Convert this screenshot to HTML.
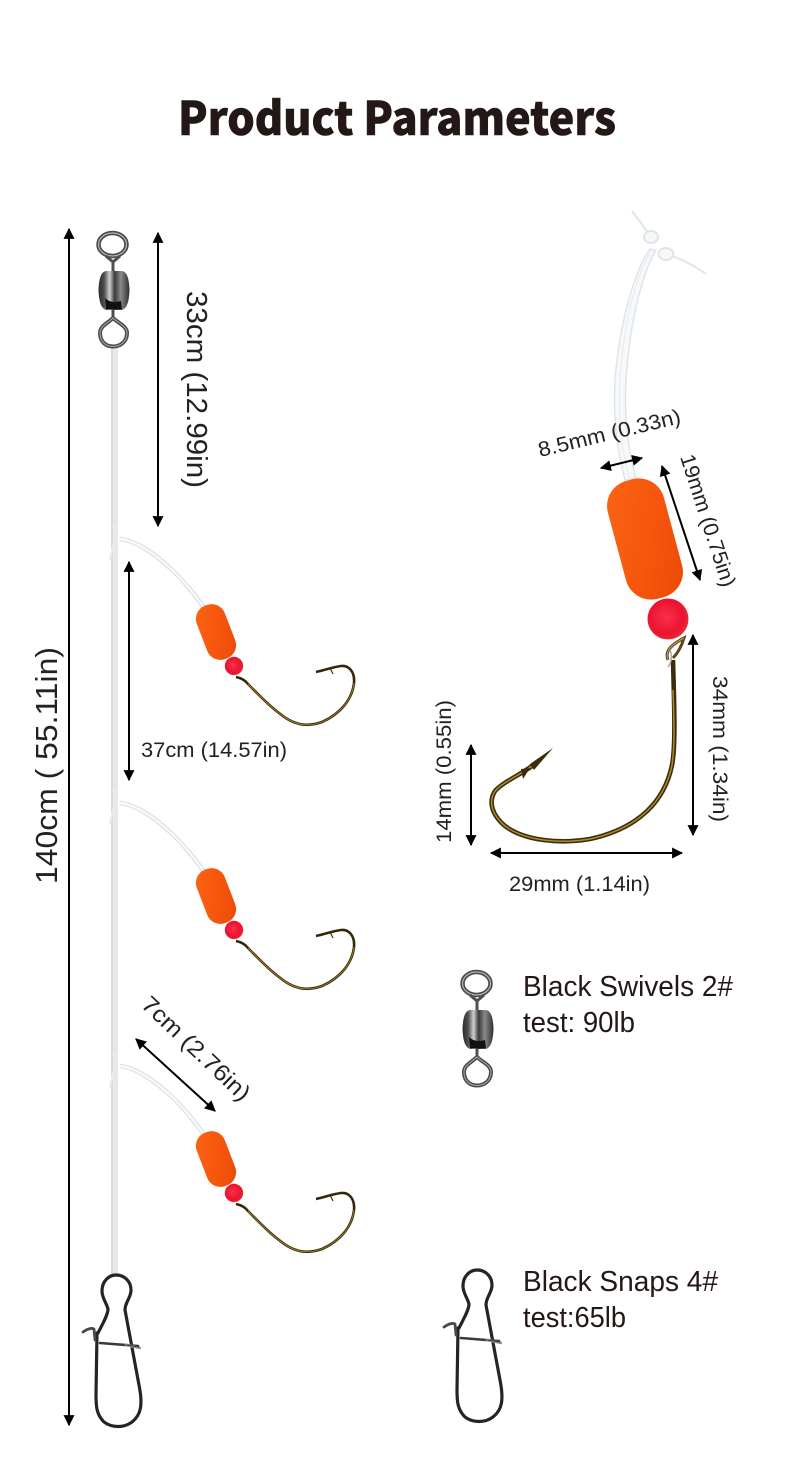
<!DOCTYPE html>
<html lang="en">
<head>
<meta charset="utf-8">
<title>Product Parameters</title>
<style>
html,body{margin:0;padding:0;background:#fff;width:790px;height:1478px;overflow:hidden}
svg{display:block}
text{font-family:"Liberation Sans",sans-serif;fill:#231815}
.dim{font-size:21px;fill:#222}
.lab{font-size:29px;fill:#231815}
</style>
</head>
<body>
<svg width="790" height="1478" viewBox="0 0 790 1478" xmlns="http://www.w3.org/2000/svg">
<defs>
  <marker id="ah" viewBox="0 0 10 10" refX="9" refY="5" markerWidth="11" markerHeight="11" markerUnits="userSpaceOnUse" orient="auto-start-reverse">
    <path d="M0,0 L10,5 L0,10 Z" fill="#000"/>
  </marker>
  <linearGradient id="barrel" x1="0" x2="1" y1="0" y2="0">
    <stop offset="0" stop-color="#2c2c2c"/><stop offset=".18" stop-color="#4d4d4d"/>
    <stop offset=".36" stop-color="#d0d0d0"/><stop offset=".52" stop-color="#3a3a3a"/>
    <stop offset=".72" stop-color="#8a8a8a"/><stop offset="1" stop-color="#2e2e2e"/>
  </linearGradient>
  <linearGradient id="flo" x1="0" x2="1" y1="0" y2="1">
    <stop offset="0" stop-color="#fb6414"/><stop offset=".6" stop-color="#f5540c"/><stop offset="1" stop-color="#e84a08"/>
  </linearGradient>
  <radialGradient id="bd" cx=".45" cy=".45" r=".6">
    <stop offset="0" stop-color="#f8304c"/><stop offset=".7" stop-color="#ec1230"/><stop offset="1" stop-color="#e0383a"/>
  </radialGradient>

  <g id="swivel" fill="none">
    <ellipse cx="112.5" cy="244.5" rx="14" ry="11.5" stroke="#4a4a4a" stroke-width="4.5"/>
    <ellipse cx="112.5" cy="244.5" rx="14" ry="11.5" stroke="#b5b5b5" stroke-width="1.2"/>
    <path d="M106,256 L113,262 L113,272 M120,256 L113,262" stroke="#505050" stroke-width="3"/>
    <path d="M113,309 L113,318" stroke="#505050" stroke-width="3"/>
    <path d="M113,318 C118,323 127,326 127,333 C127,342 120,346.5 113,346.5 C106,346.5 100,342 100,333 C100,326 108,323 113,318 Z" stroke="#4a4a4a" stroke-width="4" stroke-linejoin="round"/>
    <path d="M113,318 C118,323 127,326 127,333 C127,342 120,346.5 113,346.5 C106,346.5 100,342 100,333 C100,326 108,323 113,318 Z" stroke="#aaa" stroke-width="1"/>
    <path d="M106,271 L122,271 C127,272 129,278 129.5,290 C129,302 127,308 122,310 L106,310 C101,308 99,302 98.5,290 C99,278 101,272 106,271 Z" fill="url(#barrel)"/>
    <path d="M105,298 Q111,304 121,301 L122,309.5 L106,309.5 Z" fill="#111"/>
  </g>

  <g id="snap" fill="none" stroke-linejoin="round" stroke-linecap="round">
    <path d="M98,1333 C102,1325 108,1315 108,1309 C106,1302 102,1298 102,1291 C102,1281 109,1275 116,1275 C125,1275 131,1282 131,1290 C131,1298 125,1302 125,1310 L139,1385 C143,1405 141,1415 132,1422 C124,1428 112,1428 104,1422 C97,1415 96,1408 96,1395 L97,1333" stroke="#232427" stroke-width="3.2"/>
    <path d="M100,1343 L138,1346" stroke="#3a3a3a" stroke-width="2.6"/>
    <path d="M83,1332 Q90,1327 94,1329 L95,1340" stroke="#4a4a4a" stroke-width="2.8"/>
    <path d="M126,1345 L140,1348" stroke="#999" stroke-width="2.5"/>
    <path d="M126,1345 L139,1347" stroke="#333" stroke-width="1"/>
  </g>

  <g id="rig">
    <path d="M120,539 C135,541 150,550 170,568 C185,582 195,595 205,609" fill="none" stroke="#d8dfe4" stroke-width="4.5"/>
    <path d="M120,539 C135,541 150,550 170,568 C185,582 195,595 205,609" fill="none" stroke="#f8fafb" stroke-width="2.4"/>
    <path d="M113,526 C114,532 120,536 116,541 C112,546 112,552 110,560" fill="none" stroke="#e8ecef" stroke-width="2"/>
    <rect x="201" y="603.5" width="30" height="57" rx="14" transform="rotate(-21 216 632)" fill="url(#flo)"/>
    <circle cx="234" cy="666" r="9.2" fill="url(#bd)"/>
    <path d="M236,677 C241,678 245,680 248,684 C258,694 268,705 279,713 C292,724 305,728 322,722 C340,714 352,700 354,683 C355,672 349,665 341,666 C333,667 325,670 316,672" fill="none" stroke="#33270b" stroke-width="2.6"/>
    <path d="M248,684 C258,694 268,705 279,713 C292,724 305,728 322,722 C340,714 352,700 354,683" fill="none" stroke="#a9842c" stroke-width=".9"/>
    <path d="M330,668 L333,674" stroke="#3a2c0c" stroke-width="1.2"/>
  </g>
</defs>

<rect width="790" height="1478" fill="#fff"/>

<text x="178" y="135" font-size="46" style="font-family:'Noto Sans CJK SC','Liberation Sans',sans-serif;font-weight:900;fill:#231815;stroke:#231815;stroke-width:.6" textLength="438" lengthAdjust="spacingAndGlyphs">Product Parameters</text>

<!-- main leader -->
<rect x="111" y="347" width="7" height="930" fill="#e8e8e8"/>
<rect x="111" y="347" width="2" height="930" fill="#dadada"/>

<use href="#rig"/>
<use href="#rig" transform="translate(0,264)"/>
<use href="#rig" transform="translate(0,527)"/>

<use href="#swivel"/>
<use href="#swivel" transform="translate(364,739)"/>
<use href="#snap"/>
<use href="#snap" transform="translate(361,-5)"/>

<!-- big hook line -->
<path d="M650,249 C635,270 620,320 615,379 C613,420 617,450 625,480 L636,478 C628,450 624,420 626,379 C630,320 643,272 656,250 Z" fill="#f6f8f9" stroke="#dde4e9" stroke-width="1.4"/>
<path d="M652,250 C637,272 624,320 620,379 C618,420 621,450 630,479" fill="none" stroke="#e6ebef" stroke-width="1"/>
<g fill="none">
  <path d="M632,211 C640,222 646,230 652,238 M666,254 C680,258 695,266 706,274" stroke="#e2e7eb" stroke-width="2.2"/>
  <ellipse cx="651" cy="237" rx="7" ry="6" fill="#f5f7f8" stroke="#dfe4e8" stroke-width="2"/>
  <ellipse cx="666" cy="254" rx="7.5" ry="6" fill="#f5f7f8" stroke="#dfe4e8" stroke-width="2"/>
</g>
<rect x="616" y="478" width="58" height="122" rx="26" transform="rotate(-15 645 539)" fill="url(#flo)"/>
<circle cx="668" cy="619" r="20.5" fill="url(#bd)"/>
<path d="M673,660 C674,700 676,745 672,765 C665,800 640,828 590,839 C560,844 525,841 505,826 C492,815 488,802 495,791 C503,782 520,775 532,766" fill="none" stroke="#3a2c0c" stroke-width="4.6" stroke-linejoin="round"/>
<path d="M673,690 C674,720 675,745 672,765 C665,800 640,828 590,839 C560,844 525,841 505,826 C492,815 488,802 495,791 C503,782 520,775 532,766" fill="none" stroke="#ad8a2e" stroke-width="1.5"/>
<path d="M530,764 L553,748 L534,770 Z M521,769 L523,779 L530,768 Z" fill="#3a2c0c"/>
<path d="M668,660 C665,652 669,646 684,638 C681,648 677,654 673,658" fill="none" stroke="#5a4616" stroke-width="3"/>
<path d="M668,660 C665,652 669,646 684,638" fill="none" stroke="#c0a35a" stroke-width="1"/>
<path d="M670,650 C672,655 672,662 668,667" fill="none" stroke="#aaa" stroke-width="1.5"/>

<!-- arrows -->
<g stroke="#000" stroke-width="2" marker-start="url(#ah)" marker-end="url(#ah)" fill="none">
  <line x1="69" y1="229" x2="69" y2="1425"/>
  <line x1="158" y1="233" x2="158" y2="526"/>
  <line x1="129" y1="562" x2="129" y2="780"/>
  <line x1="136" y1="1039" x2="215" y2="1111"/>
  <line x1="601" y1="468" x2="642" y2="458"/>
  <line x1="662" y1="466" x2="700" y2="580"/>
  <line x1="693" y1="635" x2="693" y2="835"/>
  <line x1="471" y1="745" x2="471" y2="845"/>
  <line x1="491" y1="853" x2="682" y2="853"/>
</g>

<!-- left labels -->
<text transform="translate(57,884) rotate(-90)" font-size="31" style="fill:#222" textLength="237" lengthAdjust="spacingAndGlyphs">140cm ( 55.11in)</text>
<text transform="translate(187,291) rotate(90)" font-size="29" style="fill:#222" textLength="197" lengthAdjust="spacingAndGlyphs">33cm (12.99in)</text>
<text class="dim" x="141" y="757" textLength="146" lengthAdjust="spacingAndGlyphs">37cm (14.57in)</text>
<text transform="translate(140,1006) rotate(43.5)" textLength="140" lengthAdjust="spacingAndGlyphs" style="font-size:23px;fill:#222">7cm (2.76in)</text>

<!-- right labels -->
<text class="dim" transform="translate(540,457) rotate(-13.5)" textLength="146" lengthAdjust="spacingAndGlyphs">8.5mm (0.33n)</text>
<text class="dim" transform="translate(680,457) rotate(72)" textLength="138" lengthAdjust="spacingAndGlyphs">19mm (0.75in)</text>
<text class="dim" transform="translate(713,676) rotate(90)" textLength="146" lengthAdjust="spacingAndGlyphs">34mm (1.34in)</text>
<text class="dim" transform="translate(451,843) rotate(-90)" textLength="143" lengthAdjust="spacingAndGlyphs">14mm (0.55in)</text>
<text class="dim" x="509" y="891" textLength="141" lengthAdjust="spacingAndGlyphs">29mm (1.14in)</text>

<text class="lab" x="523" y="996" textLength="210" lengthAdjust="spacingAndGlyphs">Black Swivels 2#</text>
<text class="lab" x="523" y="1032" textLength="112" lengthAdjust="spacingAndGlyphs">test: 90lb</text>
<text class="lab" x="523" y="1291" textLength="195" lengthAdjust="spacingAndGlyphs">Black Snaps 4#</text>
<text class="lab" x="523" y="1327" textLength="103" lengthAdjust="spacingAndGlyphs">test:65lb</text>
</svg>
</body>
</html>
